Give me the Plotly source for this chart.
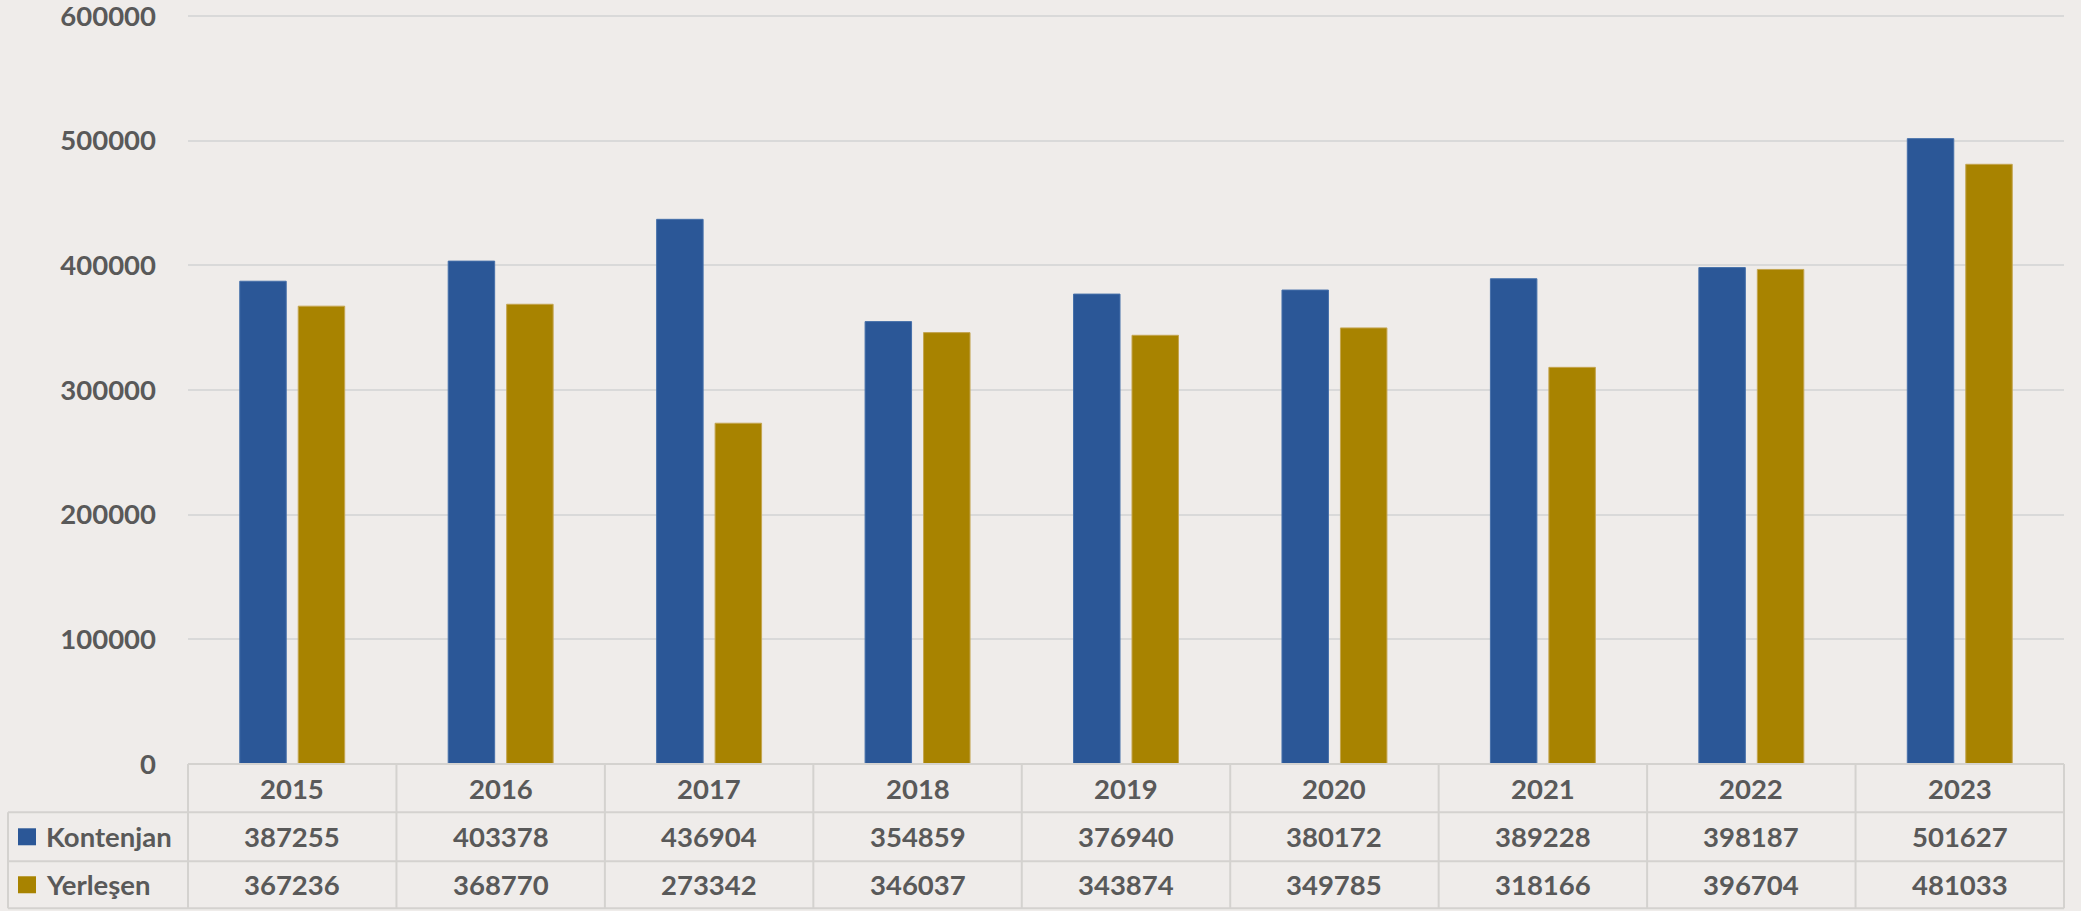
import plotly.graph_objects as go

years = ["2015", "2016", "2017", "2018", "2019", "2020", "2021", "2022", "2023"]
kontenjan = [387255, 403378, 436904, 354859, 376940, 380172, 389228, 398187, 501627]
yerlesen = [367236, 368770, 273342, 346037, 343874, 349785, 318166, 396704, 481033]
series_names = ["Kontenjan", "Yerleşen"]
y_ticks = [0, 100000, 200000, 300000, 400000, 500000, 600000]

BLUE = "#2B5797"
GOLD = "#A88300"
TXT = "#595959"
GRID = "#D9D9D9"
BG = "#EFECEA"
FONT = dict(family="Lato, 'Open Sans', sans-serif", size=27.5, color=TXT, weight="bold")

W, H = 2081, 911
L, R, T, B = 188, 17, 13.5, 147.3
pw = W - L - R
ph = H - T - B
y_top = y_ticks[-1] * ph / (ph - 2.0)

def px_x(x):
    return (x - L) / pw

def px_y(y):
    return (H - B - y) / ph

fig = go.Figure()
fig.add_trace(go.Bar(x=years, y=kontenjan, name=series_names[0], marker=dict(color=BLUE, line=dict(color="#4670AA", width=1))))
fig.add_trace(go.Bar(x=years, y=yerlesen, name=series_names[1], marker=dict(color=GOLD, line=dict(color="#C4A550", width=1))))

shapes = []
annotations = []
n = len(years)
top = 0.0
r1 = px_y(812)
r2 = px_y(861)
r3 = px_y(908)
left_col = px_x(8)
line = dict(color="#D4D2CF", width=2)

# horizontal table lines
shapes.append(dict(type="line", xref="paper", yref="paper", x0=0, x1=1, y0=top, y1=top, line=line))
for yy in (r1, r2, r3):
    shapes.append(dict(type="line", xref="paper", yref="paper", x0=left_col, x1=1, y0=yy, y1=yy, line=line))
# vertical lines
for i in range(n + 1):
    xx = i / n
    shapes.append(dict(type="line", xref="paper", yref="paper", x0=xx, x1=xx, y0=top, y1=r3, line=line))
shapes.append(dict(type="line", xref="paper", yref="paper", x0=left_col, x1=left_col, y0=r1, y1=r3, line=line))

# header + values
for i, yr in enumerate(years):
    cx = (i + 0.5) / n
    annotations.append(dict(x=cx, y=(top + r1) / 2, xref="paper", yref="paper", text=yr, showarrow=False, font=FONT, xanchor="center", yanchor="middle"))
    annotations.append(dict(x=cx, y=(r1 + r2) / 2, xref="paper", yref="paper", text=str(kontenjan[i]), showarrow=False, font=FONT, xanchor="center", yanchor="middle"))
    annotations.append(dict(x=cx, y=(r2 + r3) / 2, xref="paper", yref="paper", text=str(yerlesen[i]), showarrow=False, font=FONT, xanchor="center", yanchor="middle"))

# legend keys in table
for (name, col, ya, yb) in [(series_names[0], BLUE, r1, r2), (series_names[1], GOLD, r2, r3)]:
    yc = (ya + yb) / 2
    hh = 8.5 / ph
    shapes.append(dict(type="rect", xref="paper", yref="paper", x0=px_x(18), x1=px_x(36), y0=yc - hh, y1=yc + hh, fillcolor=col, line=dict(width=0)))
    annotations.append(dict(x=px_x(44), y=yc, xref="paper", yref="paper", text=name, showarrow=False, font=FONT, xanchor="left", yanchor="middle"))

fig.update_layout(
    width=W, height=H,
    margin=dict(l=L, r=R, t=T, b=B),
    paper_bgcolor=BG, plot_bgcolor=BG,
    barmode="group", bargap=0.439, bargroupgap=0.205,
    showlegend=False,
    shapes=shapes, annotations=annotations,
    font=FONT,
)
fig.update_xaxes(showticklabels=False, showgrid=False, zeroline=False, showline=False, ticks="", automargin=False)
fig.update_yaxes(range=[0, y_top], tickvals=y_ticks, ticktext=[str(v) for v in y_ticks],
                 showgrid=True, gridcolor=GRID, gridwidth=1.5, zeroline=False, showline=False,
                 ticks="", ticklabelstandoff=31, tickfont=FONT, ticklabeloverflow="allow", automargin=False)

fig.write_html("out.html", config={"displayModeBar": False},
               post_script="document.body.style.margin='0';document.body.style.overflow='hidden';")
